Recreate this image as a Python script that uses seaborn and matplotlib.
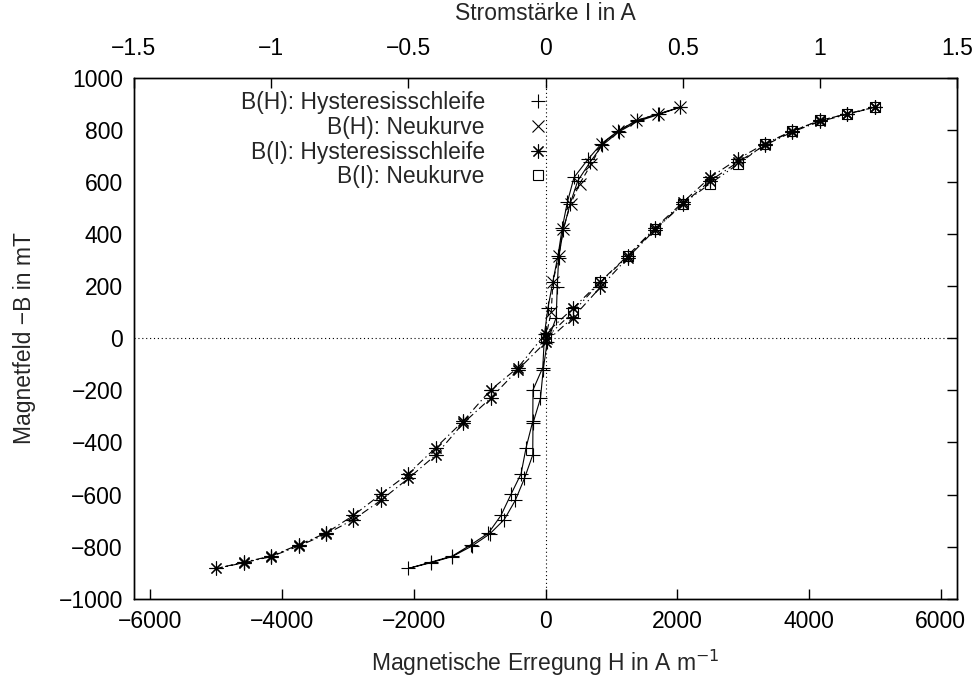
import matplotlib
matplotlib.use("Agg")
import matplotlib.pyplot as plt
import matplotlib.lines as mlines
import seaborn as sns

# hysteresis loop, current swept down from +1.2 A to -1.2 A
current_down = [1.2, 1.1, 1.0, 0.9, 0.8, 0.7, 0.6, 0.5, 0.4, 0.3, 0.2, 0.1, 0.0,
                -0.1, -0.2, -0.3, -0.4, -0.5, -0.6, -0.7, -0.8, -0.9, -1.0, -1.1, -1.2]
b_down = [888, 862, 837, 797, 748, 688, 618, 522, 425, 318, 218, 115, 18,
          -112, -198, -318, -420, -520, -599, -680, -748, -793, -836, -860, -884]
h_down = [2046, 1715, 1384, 1104, 850, 646, 433, 331, 255, 190, 112, 36, -15,
          -41, -190, -193, -295, -371, -524, -676, -866, -1135, -1415, -1746, -2087]

# hysteresis loop, current swept back up from -1.2 A to +1.2 A
current_up = [-1.2, -1.1, -1.0, -0.9, -0.8, -0.7, -0.6, -0.5, -0.4, -0.3, -0.2, -0.1, 0.0,
              0.1, 0.2, 0.3, 0.4, 0.5, 0.6, 0.7, 0.8, 0.9, 1.0, 1.1, 1.2]
b_up = [-884, -862, -838, -798, -752, -696, -622, -538, -448, -326, -230, -120, -15,
        80, 196, 310, 418, 515, 605, 676, 742, 793, 833, 860, 888]
h_up = [-2087, -1746, -1415, -1120, -850, -626, -458, -320, -194, -190, -76, -35, 25,
        163, 178, 200, 272, 372, 490, 675, 864, 1112, 1396, 1722, 2046]

# virgin curve (Neukurve)
current_new = [0.0, 0.1, 0.2, 0.3, 0.4, 0.5, 0.6, 0.7, 0.8, 0.9, 1.0, 1.1, 1.2]
b_new = [0, 101, 216, 315, 420, 517, 594, 668, 745, 796, 837, 862, 888]
h_new = [0, 87, 112, 202, 270, 382, 519, 692, 854, 1102, 1382, 1715, 2046]

current_ticks = [-1.5, -1.0, -0.5, 0.0, 0.5, 1.0, 1.5]
current_ticklabels = ["\u22121.5", "\u22121", "\u22120.5", "0", "0.5", "1", "1.5"]

FS = 16.5
LW = 0.8


def draw(ax, x, y, ls, marker, ms):
    sns.lineplot(x=x, y=y, ax=ax, sort=False, estimator=None, color="black",
                 lw=LW, linestyle=ls, marker=marker, markersize=ms,
                 markeredgecolor="black", markerfacecolor="none", markeredgewidth=0.8)


def main():
    sns.set_style("white")
    plt.rcParams["font.family"] = ["Liberation Sans", "DejaVu Sans"]
    plt.rcParams["axes.linewidth"] = 1.0
    plt.rcParams["axes.edgecolor"] = "black"

    fig = plt.figure(figsize=(9.8, 6.77), dpi=100)
    ax = fig.add_axes([134 / 980, 1 - 598.7 / 677, (957 - 134) / 980, (598.7 - 78) / 677])
    ax2 = ax.twiny()

    star = (8, 2, 0)
    dashdot = (0, (7, 3, 1.2, 3))
    dashdotdot = (0, (6, 3, 1.2, 3, 1.2, 3))

    # B(H) on the lower axis
    draw(ax, h_down + h_up[1:], b_down + b_up[1:], "-", "+", 10)
    draw(ax, h_new, b_new, (0, (5, 3)), "x", 8)
    # B(I) on the upper axis
    draw(ax2, current_down + current_up[1:], b_down + b_up[1:], dashdot, star, 10)
    draw(ax2, current_new, b_new, dashdotdot, "s", 7)

    ax.axhline(0, color="black", lw=LW, ls=(0, (1, 2.5)), zorder=0)
    ax.axvline(0, color="black", lw=LW, ls=(0, (1, 2.5)), zorder=0)

    ax.set_xlim(-6250, 6250)
    ax.set_ylim(-1000, 1000)
    ax2.set_xlim(-1.5, 1.5)
    ax.set_xticks(range(-6000, 6001, 2000))
    ax.set_yticks(range(-1000, 1001, 200))
    ax2.set_xticks(current_ticks)
    ax2.set_xticklabels(current_ticklabels)

    ax.tick_params(direction="in", length=7, width=1, top=False, right=True,
                   labelsize=FS, colors="black", pad=8)
    ax2.tick_params(direction="in", length=7, width=1, labelsize=FS, colors="black", pad=13)

    ax.set_xlabel("Magnetische Erregung H in A m$^{-1}$", fontsize=FS, labelpad=11)
    ax.set_ylabel("Magnetfeld \u2212B in mT", fontsize=FS, labelpad=16)
    ax2.set_xlabel("Stromstärke I in A", fontsize=FS, labelpad=12)
    for spine in ax.spines.values():
        spine.set_visible(True)

    handles = [
        mlines.Line2D([], [], color="black", marker="+", ms=10, mew=0.8, lw=0, label="B(H): Hysteresisschleife"),
        mlines.Line2D([], [], color="black", marker="x", ms=8, mew=0.8, lw=0, label="B(H): Neukurve"),
        mlines.Line2D([], [], color="black", marker=star, ms=10, mew=0.8, lw=0, label="B(I): Hysteresisschleife"),
        mlines.Line2D([], [], color="black", marker="s", ms=7, mew=0.8, mfc="none", lw=0, label="B(I): Neukurve"),
    ]
    ax2.legend(handles=handles, loc="upper right", bbox_to_anchor=(549 / 980, 1 - 91 / 677),
               bbox_transform=fig.transFigure, frameon=False, markerfirst=False,
               fontsize=FS, handlelength=1.0, handletextpad=1.8, labelspacing=0.08,
               borderpad=0, borderaxespad=0)

    fig.savefig("out.png", dpi=100)
    plt.close(fig)


if __name__ == "__main__":
    main()
